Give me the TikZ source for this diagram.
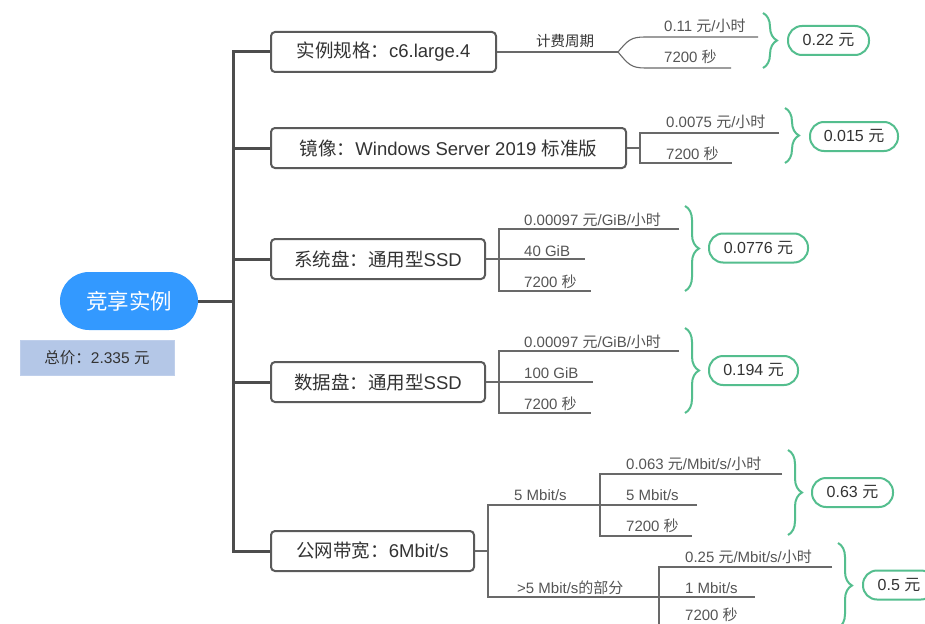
\documentclass[tikz,border=0pt]{standalone}
\usepackage{fontspec}
\setmainfont{Liberation Sans}
\newfontfamily\cjkfont{Noto Sans CJK SC}
\newcommand{\zhtxt}[1]{{\cjkfont #1}}
\usetikzlibrary{decorations.pathreplacing}
\definecolor{trunkc}{RGB}{77,77,77}
\definecolor{boxc}{RGB}{90,90,90}
\definecolor{textc}{RGB}{51,51,51}
\definecolor{itemc}{RGB}{85,85,85}
\definecolor{linec}{RGB}{105,105,105}
\definecolor{greenc}{RGB}{84,190,142}
\definecolor{rootc}{RGB}{51,153,255}
\definecolor{totalc}{RGB}{180,199,231}
\begin{document}
\begin{tikzpicture}[x=1pt,y=-1pt,
  mainbox/.style={draw=boxc, line width=2pt, rounded corners=4pt, fill=white,
    minimum height=40pt, inner xsep=0pt, font=\fontsize{18.5}{21}\selectfont, text=textc, anchor=west},
  rootn/.style={fill=rootc, rounded corners=29pt, minimum width=138pt, minimum height=58pt,
    text=white, font=\fontsize{21.5}{24}\selectfont},
  pill/.style={draw=greenc, line width=2pt, rounded corners=14pt, minimum height=29pt,
    inner xsep=0pt, font=\fontsize{16}{19}\selectfont, text=textc, anchor=west},
  item/.style={anchor=base west, inner sep=0pt, font=\fontsize{15}{17}\selectfont, text=itemc},
  thinl/.style={draw=linec, line width=1.1pt},
  trunk/.style={draw=trunkc, line width=3pt},
  brc/.style={draw=greenc, line width=2pt, decorate, decoration={brace, amplitude=14pt}}
]
\clip (0,0) rectangle (925,623);
\fill[white] (0,0) rectangle (925,623);

% root and total
\node[rootn] (root) at (129,301) {\zhtxt{竞享实例}};
\node[fill=totalc, draw=totalc!85!white, minimum width=154pt, minimum height=35pt,
  font=\fontsize{15.5}{18}\selectfont, text=textc] (total) at (97,357.5) {\zhtxt{总价：}2.335 \zhtxt{元}};

% main boxes
\node[mainbox, minimum width=225pt] (b1) at (270,52) {\zhtxt{实例规格：}c6.large.4};
\node[mainbox, minimum width=355pt] (b2) at (270,148) {\zhtxt{镜像：}Windows Server 2019 \zhtxt{标准版}};
\node[mainbox, minimum width=214pt] (b3) at (270,259) {\zhtxt{系统盘：通用型}SSD};
\node[mainbox, minimum width=214pt] (b4) at (270,382) {\zhtxt{数据盘：通用型}SSD};
\node[mainbox, minimum width=203pt] (b5) at (270,551) {\zhtxt{公网带宽：}6Mbit/s};

% trunk
\coordinate (tk) at (233,301);
\draw[trunk, line join=miter] (b1.west) -| (tk) |- (b5.west);
\draw[trunk] (root.east) -- (tk);
\draw[trunk] (b2.west) -- (b2.west -| tk);
\draw[trunk] (b3.west) -- (b3.west -| tk);
\draw[trunk] (b4.west) -- (b4.west -| tk);

% ---------- group 1
\coordinate (g1f) at (618,52);
\coordinate (g1a) at (758,37);
\coordinate (g1b) at (731,68);
\draw[thinl] (b1.east) -- (g1f);
\node[anchor=base, inner sep=0pt, font=\fontsize{14.5}{17}\selectfont, text=textc] (lab1) at (565,47) {\zhtxt{计费周期}};
\draw[thinl] (g1f) .. controls +(10,-12) and +(-14,0) .. (645,37) -- (g1a);
\draw[thinl] (g1f) .. controls +(10,12) and +(-14,0) .. (645,68) -- (g1b);
\node[item] (t11) at (664,32) {0.11 \zhtxt{元}/\zhtxt{小时}};
\node[item] (t12) at (664,63) {7200 \zhtxt{秒}};
\draw[brc] (763,13) -- (763,68);
\node[pill, minimum width=81pt] (p1) at (787,40.5) {0.22 \zhtxt{元}};

% ---------- group 2
\coordinate (g2v) at (640,148);
\draw[thinl] (b2.east) -- (g2v);
\coordinate (g2a) at (779,133);
\coordinate (g2b) at (732,163);
\draw[thinl] (g2a) -| (g2v) |- (g2b);
\node[item] (t21) at (666,128) {0.0075 \zhtxt{元}/\zhtxt{小时}};
\node[item] (t22) at (666,159) {7200 \zhtxt{秒}};
\draw[brc] (785,108) -- (785,163);
\node[pill, minimum width=88pt] (p2) at (809,136.5) {0.015 \zhtxt{元}};

% ---------- group 3
\coordinate (g3v) at (499,259);
\draw[thinl] (b3.east) -- (g3v) -- (585,259);
\coordinate (g3a) at (679,229);
\coordinate (g3b) at (591,291);
\draw[thinl] (g3a) -| (g3v) |- (g3b);
\node[item] (t31) at (524,225) {0.00097 \zhtxt{元}/GiB/\zhtxt{小时}};
\node[item] (t32) at (524,256) {40 GiB};
\node[item] (t33) at (524,287) {7200 \zhtxt{秒}};
\draw[brc] (685,206) -- (685,291);
\node[pill, minimum width=99pt] (p3) at (708,248) {0.0776 \zhtxt{元}};

% ---------- group 4
\coordinate (g4v) at (499,382);
\draw[thinl] (b4.east) -- (g4v) -- (593,382);
\coordinate (g4a) at (679,351);
\coordinate (g4b) at (591,413);
\draw[thinl] (g4a) -| (g4v) |- (g4b);
\node[item] (t41) at (524,347) {0.00097 \zhtxt{元}/GiB/\zhtxt{小时}};
\node[item] (t42) at (524,378) {100 GiB};
\node[item] (t43) at (524,409) {7200 \zhtxt{秒}};
\draw[brc] (685,328) -- (685,413);
\node[pill, minimum width=89pt] (p4) at (708,370.5) {0.194 \zhtxt{元}};

% ---------- group 5
\coordinate (g5v) at (488,551);
\draw[thinl] (b5.east) -- (g5v);
\coordinate (g5a) at (697,505);
\coordinate (g5b) at (755,597);
\draw[thinl] (g5a) -| (g5v) |- (g5b);
\node[item] (t5l1) at (514,500) {5 Mbit/s};
\node[item] (t5l2) at (517,593) {>5 Mbit/s\zhtxt{的部分}};
% sub 5a
\coordinate (g5av) at (600,505);
\coordinate (g5aa) at (782,474);
\coordinate (g5ab) at (692,536);
\draw[thinl] (g5aa) -| (g5av) |- (g5ab);
\node[item] (t51) at (626,469) {0.063 \zhtxt{元}/Mbit/s/\zhtxt{小时}};
\node[item] (t52) at (626,500) {5 Mbit/s};
\node[item] (t53) at (626,531) {7200 \zhtxt{秒}};
\draw[brc] (788,450) -- (788,535);
\node[pill, minimum width=81pt] (p5) at (811,492.5) {0.63 \zhtxt{元}};
% sub 5b
\coordinate (g5bv) at (659,597);
\coordinate (g5ba) at (832,567);
\coordinate (g5bb) at (745,626);
\draw[thinl] (g5ba) -| (g5bv) |- (g5bb);
\node[item] (t54) at (685,562) {0.25 \zhtxt{元}/Mbit/s/\zhtxt{小时}};
\node[item] (t55) at (685,593) {1 Mbit/s};
\node[item] (t56) at (685,620) {7200 \zhtxt{秒}};
\draw[brc] (838,543) -- (838,628);
\node[pill, minimum width=72pt] (p6) at (862,585) {0.5 \zhtxt{元}};
\end{tikzpicture}
\end{document}
